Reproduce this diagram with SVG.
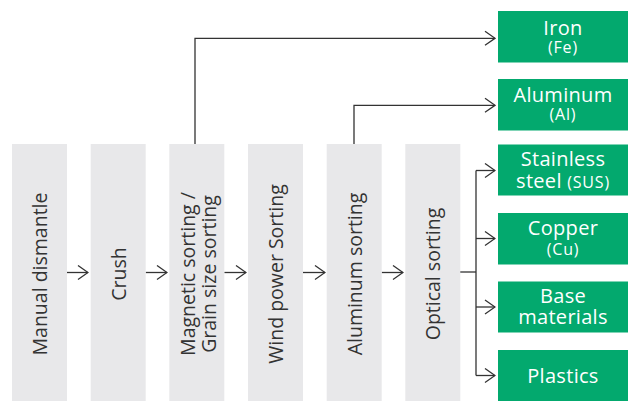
<svg xmlns="http://www.w3.org/2000/svg" width="640" height="414" viewBox="0 0 640 414">
<defs>
<style>
.step{fill:#e8e8ea}
.out{fill:#03a96e}
.st{font-family:"Open Sans","Noto Sans",sans-serif;font-size:19.5px;fill:#333;text-anchor:middle;dominant-baseline:central}
.ot{font-family:"Open Sans","Noto Sans",sans-serif;font-size:20px;fill:#fff;text-anchor:middle;letter-spacing:0.3px}
.os{font-size:16px;letter-spacing:0.8px}
.ln{fill:none;stroke:#333;stroke-width:1.3}
</style>
<marker id="ah" viewBox="0 0 12 16" markerWidth="12" markerHeight="16" refX="11" refY="8" orient="auto" markerUnits="userSpaceOnUse">
<path d="M1,1 L11,8 L1,15" fill="none" stroke="#333" stroke-width="1.3"/>
</marker>
</defs>
<rect width="640" height="414" fill="#fff"/>
<g id="connectors">
<path class="ln" d="M67,272.5 H88" marker-end="url(#ah)"/>
<path class="ln" d="M145.7,272.5 H167" marker-end="url(#ah)"/>
<path class="ln" d="M224.3,272.5 H246" marker-end="url(#ah)"/>
<path class="ln" d="M303,272.5 H325" marker-end="url(#ah)"/>
<path class="ln" d="M381.7,272.5 H403" marker-end="url(#ah)"/>
<path class="ln" d="M195,144 V38.3 H495" marker-end="url(#ah)"/>
<path class="ln" d="M354,144 V105.3 H495" marker-end="url(#ah)"/>
<path class="ln" d="M460,272 H476"/>
<path class="ln" d="M476,170.5 V375.5"/>
<path class="ln" d="M476,170.5 H495" marker-end="url(#ah)"/>
<path class="ln" d="M476,238.5 H495" marker-end="url(#ah)"/>
<path class="ln" d="M476,307 H495" marker-end="url(#ah)"/>
<path class="ln" d="M476,375.5 H495" marker-end="url(#ah)"/>
</g>
<g id="manual"><rect class="step" x="12" y="144" width="55" height="257"/><text class="st" transform="translate(39.5,274) rotate(-90)">Manual dismantle</text></g>
<g id="crush"><rect class="step" x="90.7" y="144" width="55" height="257"/><text class="st" transform="translate(118.2,274) rotate(-90)">Crush</text></g>
<g id="magnetic"><rect class="step" x="169.3" y="144" width="55" height="257"/><text class="st" transform="translate(197.5,274) rotate(-90)"><tspan x="0" y="-10.5">Magnetic sorting /</tspan><tspan x="0" y="10.5">Grain size sorting</tspan></text></g>
<g id="wind"><rect class="step" x="248" y="144" width="55" height="257"/><text class="st" transform="translate(275.5,274) rotate(-90)">Wind power Sorting</text></g>
<g id="aluminum-sorting"><rect class="step" x="326.7" y="144" width="55" height="257"/><text class="st" transform="translate(354.2,274) rotate(-90)">Aluminum sorting</text></g>
<g id="optical"><rect class="step" x="405.3" y="144" width="55" height="257"/><text class="st" transform="translate(432.8,274) rotate(-90)">Optical sorting</text></g>
<g id="iron"><rect class="out" x="498" y="11" width="130" height="51.5"/><text class="ot" x="563" y="34.5">Iron</text><text class="ot os" x="563" y="53">(Fe)</text></g>
<g id="aluminum"><rect class="out" x="498" y="79" width="130" height="51.5"/><text class="ot" x="563" y="101.5">Aluminum</text><text class="ot os" x="563" y="120">(Al)</text></g>
<g id="stainless"><rect class="out" x="498" y="144.5" width="130" height="51"/><text class="ot" x="563" y="166">Stainless</text><text class="ot" x="563" y="187.5">steel <tspan class="os">(SUS)</tspan></text></g>
<g id="copper"><rect class="out" x="498" y="213" width="130" height="51.5"/><text class="ot" x="563" y="234.5">Copper</text><text class="ot os" x="563" y="255">(Cu)</text></g>
<g id="base"><rect class="out" x="498" y="281.5" width="130" height="51"/><text class="ot" x="563" y="302.5">Base</text><text class="ot" x="563" y="324">materials</text></g>
<g id="plastics"><rect class="out" x="498" y="350" width="130" height="51"/><text class="ot" x="563" y="383">Plastics</text></g>
</svg>
